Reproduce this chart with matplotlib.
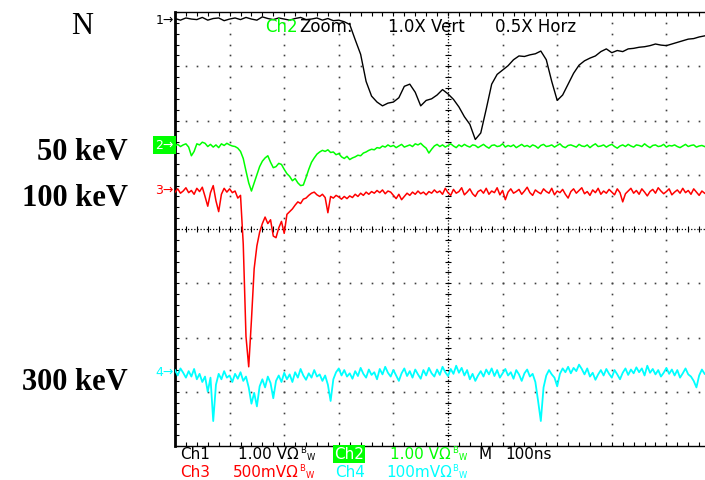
import numpy as np
import matplotlib
matplotlib.use("Agg")
import matplotlib.pyplot as plt

# screen: 10 x 8 divisions, 100 ns/div; traces in divisions relative to each channel's ground marker
ch1_step = 0.1
ch1_v = [0.01, -0.02, 0.02, 0.00, -0.01, 0.03, -0.02, 0.01, 0.02, -0.03,
         0.00, 0.02, -0.01, 0.03, 0.00, -0.02, 0.04, 0.01, -0.01, 0.02,
         0.00, -0.02, 0.01, 0.03, -0.01, 0.00, 0.02, -0.02, 0.01, -0.03,
         -0.02, -0.05,
         -0.10, -0.38, -0.65, -1.15, -1.42, -1.53, -1.60, -1.55, -1.53, -1.45,
         -1.24, -1.20, -1.35, -1.60, -1.50, -1.47, -1.40, -1.30, -1.38, -1.48,
         -1.62, -1.80, -1.94, -2.22, -2.10, -1.66, -1.20, -1.02, -0.94, -0.86,
         -0.75, -0.68, -0.69, -0.66, -0.64, -0.59, -0.75, -1.15, -1.50, -1.40,
         -1.20, -1.00, -0.85, -0.77, -0.72, -0.68, -0.60, -0.55, -0.62, -0.58,
         -0.60, -0.55, -0.54, -0.52, -0.51, -0.49, -0.46, -0.48, -0.49, -0.46,
         -0.43, -0.40, -0.37, -0.36, -0.33, -0.31]

fine_step = 0.05
ch2_v = [-0.02, 0.01, -0.03, 0.00, 0.02, -0.04,
         -0.20, -0.12, 0.02, 0.00, 0.05,
         0.03, -0.03, 0.01, -0.04, 0.00, -0.05, 0.02, -0.01, 0.03, 0.00,
         -0.02, -0.03, -0.06, -0.12, -0.25, -0.48, -0.70, -0.85, -0.70, -0.55,
         -0.40, -0.30, -0.24, -0.20, -0.32, -0.42, -0.40, -0.34, -0.36, -0.45,
         -0.53, -0.58, -0.66, -0.62, -0.70, -0.75, -0.74, -0.60, -0.45, -0.32,
         -0.24, -0.17, -0.13, -0.10, -0.12, -0.09, -0.14, -0.13, -0.18, -0.16,
         -0.22, -0.25, -0.21, -0.27, -0.24, -0.22, -0.19, -0.20, -0.15, -0.13,
         -0.10, -0.08, -0.09, -0.05, -0.06, -0.02, -0.04, 0.00, -0.03, -0.01,
         -0.05, -0.02, 0.01, -0.04, -0.02, 0.00, -0.03, 0.02, 0.00, 0.03,
         -0.02, -0.06, -0.15, -0.08, -0.02, 0.01,
         -0.03, 0.00, -0.04, -0.01, 0.02, -0.02, -0.05, 0.00, -0.03, 0.01,
         -0.02, -0.04, 0.00, -0.01, -0.05, -0.02, 0.01, -0.03, -0.06, -0.01,
         0.00, -0.03, -0.02, 0.02, -0.04, -0.01, -0.03, 0.00, -0.05, -0.02,
         0.01, -0.03, -0.01, -0.04, 0.00, -0.02, -0.06, -0.01, 0.01, -0.03,
         -0.02, 0.00, -0.04, -0.01, 0.02, -0.03, -0.05, -0.01, 0.00, -0.02,
         -0.04, 0.01, -0.02, -0.03, 0.00, -0.05, -0.01, 0.02, -0.03, -0.02,
         0.00, -0.04, -0.01, 0.01, -0.03, -0.06, -0.02, 0.00, -0.03, 0.01,
         -0.02, -0.04, 0.00, -0.01, -0.03, 0.02, -0.02, -0.05, -0.01, 0.00,
         -0.03, -0.02, 0.01, -0.04, -0.01, -0.02, 0.00, -0.03, -0.05, -0.02,
         0.01, -0.03, -0.01, 0.00, -0.04, -0.02, -0.01, -0.03]

ch3_v = [-0.04, 0.02, -0.06, -0.02, 0.04, -0.05, -0.01, -0.08, 0.03, -0.03, 0.05,
         -0.12, -0.30, -0.05, 0.08, -0.20, -0.40, -0.08, 0.03, -0.04, 0.02,
         -0.05, -0.02, -0.15, -0.10, -1.00, -2.70, -3.26, -2.40, -1.45, -1.03,
         -0.78, -0.62, -0.50, -0.62, -0.55, -0.85, -0.88, -0.70, -0.58, -0.80,
         -0.45, -0.40, -0.35, -0.28, -0.22, -0.25, -0.17, -0.15, -0.10, -0.06,
         -0.04, -0.09, -0.12, -0.08, -0.14, -0.42, -0.12, -0.15, -0.10, -0.13,
         -0.17, -0.12, -0.16, -0.11, -0.14, -0.08, -0.12, -0.06, -0.10, -0.04,
         -0.08, -0.03, -0.06, -0.01, -0.05, 0.00, -0.07, -0.02, -0.04, -0.10,
         -0.16, -0.08, -0.18, -0.12, -0.06, -0.10, -0.04, -0.08, -0.02, -0.07,
         -0.04, -0.09, -0.03, -0.06, 0.00, -0.05,
         -0.02, -0.08, 0.03, -0.05, -0.10, 0.01, -0.06, -0.03, 0.04, -0.09,
         -0.04, 0.02, -0.07, -0.12, -0.03, 0.00, -0.06, 0.03, -0.08, -0.02,
         -0.05, 0.04, -0.09, -0.01, -0.18, -0.04, 0.02, -0.06, -0.03, 0.01,
         -0.08, -0.02, 0.05, -0.05, -0.10, 0.00, -0.04, -0.07, 0.02, -0.03,
         -0.06, 0.03, -0.09, -0.02, -0.05, 0.01, -0.08, -0.15, -0.03, 0.02,
         -0.06, -0.01, 0.04, -0.07, -0.03, -0.10, 0.00, -0.05, 0.03, -0.08,
         -0.02, -0.06, 0.01, -0.04, -0.09, 0.02, -0.05, -0.22, -0.07, -0.02,
         0.03, -0.06, -0.01, -0.08, 0.02, -0.04, -0.11, -0.03, 0.01, -0.06,
         0.04, -0.02, -0.07, -0.03, 0.02, -0.09, -0.04, 0.00, -0.06, 0.03,
         -0.05, -0.01, -0.08, 0.02, -0.04, -0.10, -0.02, -0.06]

ch4_v = [0.02, -0.08, 0.05, -0.03, -0.12, 0.00, -0.10, 0.04, -0.15, -0.05,
         -0.20, -0.10, -0.38, -0.12, -0.92, -0.25, -0.05, -0.15, 0.00, -0.12,
         -0.08, -0.20, -0.05, -0.14, -0.02, -0.18, -0.10, -0.30, -0.60, -0.40,
         -0.65, -0.28, -0.15, -0.30, -0.10, -0.22, -0.50, -0.18, -0.08, -0.20,
         -0.03, -0.15, -0.06, -0.20, -0.02, -0.12, 0.04, -0.08, -0.16, -0.04,
         -0.12, 0.02, -0.10, -0.06, -0.18, -0.08, -0.25, -0.55, -0.15, -0.02,
         0.05, -0.08, 0.02, -0.10, -0.04, -0.14, 0.00, -0.09, 0.06, -0.05,
         -0.12, 0.03, -0.07, -0.02, -0.15, 0.04, -0.06, 0.08, -0.03, -0.10,
         0.02, -0.08, -0.18, -0.04, 0.05, -0.09, 0.00, -0.12, 0.03, -0.06,
         -0.14, 0.02, -0.08, 0.06, -0.04, -0.10, 0.03, -0.07, 0.08, -0.02,
         -0.09, 0.04, -0.05, 0.10, -0.03, 0.06, -0.08, 0.02, -0.15, -0.05,
         -0.18, -0.08, 0.00, -0.10, 0.03, -0.06, 0.05, -0.09, 0.02, -0.12,
         -0.04, 0.04, -0.08, -0.02, -0.14, 0.02, -0.06, -0.18, -0.04, 0.03,
         -0.10, -0.05, -0.20, -0.55, -0.92, -0.30, -0.08, 0.02, -0.06, -0.12,
         -0.28, -0.05, 0.05, -0.02, 0.08, -0.04, 0.06, 0.00, 0.12, 0.04,
         -0.06, 0.05, -0.10, -0.03, -0.16, -0.06, 0.02, -0.08, 0.04, -0.05,
         -0.12, 0.02, -0.06, -0.15, -0.03, 0.05, -0.07, 0.03, -0.04, 0.07,
         -0.02, 0.05, -0.08, 0.10, -0.03, 0.04, -0.06, 0.02, -0.10, -0.03,
         0.06, -0.05, 0.03, -0.08, 0.02, -0.12, -0.04, 0.05, -0.06, -0.10,
         -0.18, -0.30, -0.08, 0.03, -0.05]

ch_levels = [3.87, 1.55, 0.72, -2.62]
ch_colors = ["black", "#00ff00", "#ff0000", "#00ffff"]
ch_widths = [1.0, 1.1, 1.1, 1.3]
energy_labels = ["50 keV", "100 keV", "300 keV"]
energy_y = [153, 198, 383]

W, H = 705, 481
def fx(px):
    return px / W
def fy(py):
    return 1 - py / H

fig = plt.figure(figsize=(W / 100, H / 100), dpi=100)
ax = fig.add_axes([175 / W, 34 / H, 546 / W, 434 / H])
ax.set_xlim(0, 10)
ax.set_ylim(-4, 4)
ax.spines["right"].set_visible(False)
ax.spines["left"].set_linewidth(2)
ax.spines["top"].set_linewidth(1)
ax.spines["bottom"].set_linewidth(1)
ax.set_xticks([])
ax.set_yticks([])
sub_x = np.arange(0, 10.01, 0.2)
sub_y = np.arange(-4, 4.01, 0.2)
ax.set_xticks(sub_x, minor=True)
ax.set_yticks(sub_y, minor=True)
ax.tick_params(which="minor", direction="in", length=3, width=0.8,
               top=True, bottom=True, left=True, right=False,
               labelbottom=False, labelleft=False)

# graticule dots
for gx in range(1, 10):
    if gx == 5:
        continue
    ax.plot(np.full_like(sub_y, gx), sub_y, ls="none", marker="s", ms=1.2,
            mew=0, color="#404040", zorder=1)
for gy in range(-3, 4):
    if gy == 0:
        continue
    ax.plot(sub_x, np.full_like(sub_x, gy), ls="none", marker="s", ms=1.2,
            mew=0, color="#404040", zorder=1)
# centre cross
ax.plot([0, 10], [0, 0], color="k", lw=0.9, ls=(0, (1, 1.5)), zorder=1)
ax.plot(sub_x, np.zeros_like(sub_x), ls="none", marker="|", ms=5, mew=0.8, color="k", zorder=1)
ax.plot([5, 5], [-4, 4], color="k", lw=0.9, ls=(0, (1, 1.5)), zorder=1)
ax.plot(np.full_like(sub_y, 5), sub_y, ls="none", marker="_", ms=5, mew=0.8, color="k", zorder=1)

# traces
t1 = np.arange(len(ch1_v)) * ch1_step
tf = np.arange(len(ch2_v)) * fine_step
traces = [(t1, ch1_v), (tf, ch2_v), (tf, ch3_v), (tf, ch4_v)]
for (t, v), lvl, c, lw in zip(traces, ch_levels, ch_colors, ch_widths):
    ax.plot(t, np.array(v) + lvl, color=c, lw=lw, zorder=3)

# ground markers
for i, (lvl, c) in enumerate(zip(ch_levels, ch_colors)):
    if i == 1:
        ax.text(-0.02, lvl, "2→", color="white", fontsize=9, ha="right", va="center",
                clip_on=False, bbox=dict(facecolor="#00ff00", edgecolor="none", pad=1.5))
    else:
        ax.text(-0.02, lvl, f"{i + 1}→", color=c, fontsize=9, ha="right", va="center",
                clip_on=False)

# header
fig.text(fx(265), fy(27), "Ch2", color="#00ff00", fontsize=12, va="center", zorder=5)
fig.text(fx(299), fy(27), "Zoom:", color="k", fontsize=12, va="center", zorder=5)
fig.text(fx(388), fy(27), "1.0X Vert", color="k", fontsize=12, va="center")
fig.text(fx(495), fy(27), "0.5X Horz", color="k", fontsize=12, va="center")

# left labels
fig.text(fx(82), fy(26), "N", family="Liberation Serif", fontsize=22, ha="center", va="center")
for lab, yy in zip(energy_labels, energy_y):
    fig.text(fx(128), fy(yy), lab, family="Liberation Serif", fontweight="bold",
             fontsize=22, ha="right", va="center")

# status lines
def bw(x, y, c):
    fig.text(fx(x), fy(y - 4), "B", color=c, fontsize=6, va="center")
    fig.text(fx(x + 7), fy(y + 3), "W", color=c, fontsize=6, va="center")

y1, y2 = 455, 473
fig.text(fx(180), fy(y1), "Ch1", color="k", fontsize=11, va="center")
fig.text(fx(238), fy(y1), "1.00 VΩ", color="k", fontsize=11, va="center")
bw(300, y1, "k")
fig.text(fx(334), fy(y1), "Ch2", color="white", fontsize=11, va="center",
         bbox=dict(facecolor="#00ff00", edgecolor="none", pad=1))
fig.text(fx(390), fy(y1), "1.00 VΩ", color="#00ff00", fontsize=11, va="center")
bw(452, y1, "#00ff00")
fig.text(fx(478), fy(y1), "M", color="k", fontsize=11, va="center")
fig.text(fx(505), fy(y1), "100ns", color="k", fontsize=11, va="center")
fig.text(fx(180), fy(y2), "Ch3", color="#ff0000", fontsize=11, va="center")
fig.text(fx(233), fy(y2), "500mVΩ", color="#ff0000", fontsize=11, va="center")
bw(299, y2, "#ff0000")
fig.text(fx(335), fy(y2), "Ch4", color="#00ffff", fontsize=11, va="center")
fig.text(fx(386), fy(y2), "100mVΩ", color="#00ffff", fontsize=11, va="center")
bw(452, y2, "#00ffff")

fig.savefig("out.png", dpi=100)
